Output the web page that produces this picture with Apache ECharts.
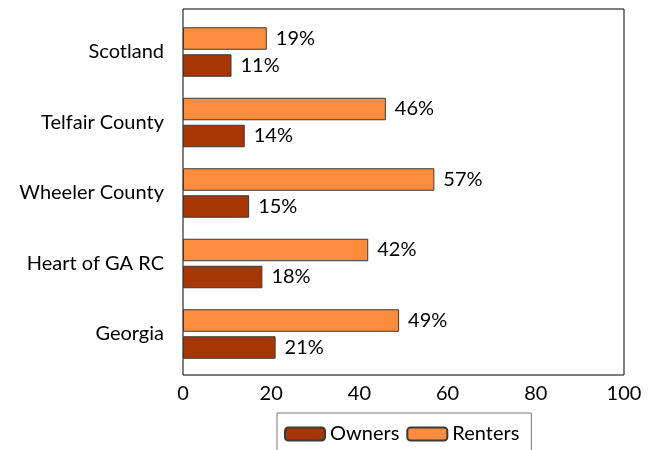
<!DOCTYPE html>
<html>
<head>
<meta charset="utf-8">
<script src="https://cdn.jsdelivr.net/npm/echarts@6/dist/echarts.min.js"></script>
<style>
  html, body { margin: 0; padding: 0; background: #fff; }
  #chart { width: 658px; height: 450px; }
</style>
</head>
<body>
<div id="chart"></div>
<script>
// data
const regions = ['Scotland', 'Telfair County', 'Wheeler County', 'Heart of GA RC', 'Georgia'];
const owners = [11, 14, 15, 18, 21];
const renters = [19, 46, 57, 42, 49];
const xTicks = [0, 20, 40, 60, 80, 100];

const font = 'Lato, "DejaVu Sans", sans-serif';
const fs = 20;
const myChart = echarts.init(document.getElementById('chart'));

const barLabel = {
  show: true,
  position: 'right',
  distance: 9,
  formatter: p => p.value + '%',
  color: '#000',
  fontFamily: font,
  fontSize: fs
};

const option = {
  animation: false,
  textStyle: { fontFamily: font },
  grid: [
    // frame + x axis
    { left: 183, top: 9, width: 441, height: 366, show: true, borderColor: '#000', borderWidth: 1, backgroundColor: 'transparent' },
    // bars area (pgfplots enlarges the y limits)
    { left: 183, top: 16.75, width: 441, height: 352.5 }
  ],
  xAxis: [
    {
      gridIndex: 0, type: 'value', min: 0, max: 100, interval: 20,
      axisLine: { show: false }, axisTick: { show: false }, splitLine: { show: false },
      axisLabel: {
        color: '#000', fontSize: fs, fontFamily: font, margin: 9,
        formatter: v => xTicks.includes(v) ? String(v) : ''
      }
    },
    { gridIndex: 1, type: 'value', min: 0, max: 100, show: false }
  ],
  yAxis: [
    { gridIndex: 0, type: 'value', show: false },
    {
      gridIndex: 1, type: 'category', data: regions, inverse: true,
      axisLine: { show: false }, axisTick: { show: false },
      axisLabel: { color: '#000', fontSize: fs, fontFamily: font, margin: 19 }
    }
  ],
  legend: {
    left: 277, top: 413,
    itemWidth: 40, itemHeight: 13, itemGap: 7,
    padding: [11, 12, 11, 7],
    borderColor: '#777', borderWidth: 1,
    textStyle: { color: '#000', fontSize: fs, fontFamily: font, padding: [0, 0, 0, 0] },
    data: ['Owners', 'Renters']
  },
  series: [
    {
      name: 'Renters', type: 'bar', xAxisIndex: 1, yAxisIndex: 1,
      data: renters, barWidth: 22.5, barGap: '20%',
      itemStyle: { color: '#fd8d3c', borderColor: '#3a3a3a', borderWidth: 1 },
      label: barLabel
    },
    {
      name: 'Owners', type: 'bar', xAxisIndex: 1, yAxisIndex: 1,
      data: owners, barWidth: 22.5, barGap: '20%',
      itemStyle: { color: '#a63603', borderColor: '#3a3a3a', borderWidth: 1 },
      label: barLabel
    }
  ]
};

myChart.setOption(option);
</script>
</body>
</html>
